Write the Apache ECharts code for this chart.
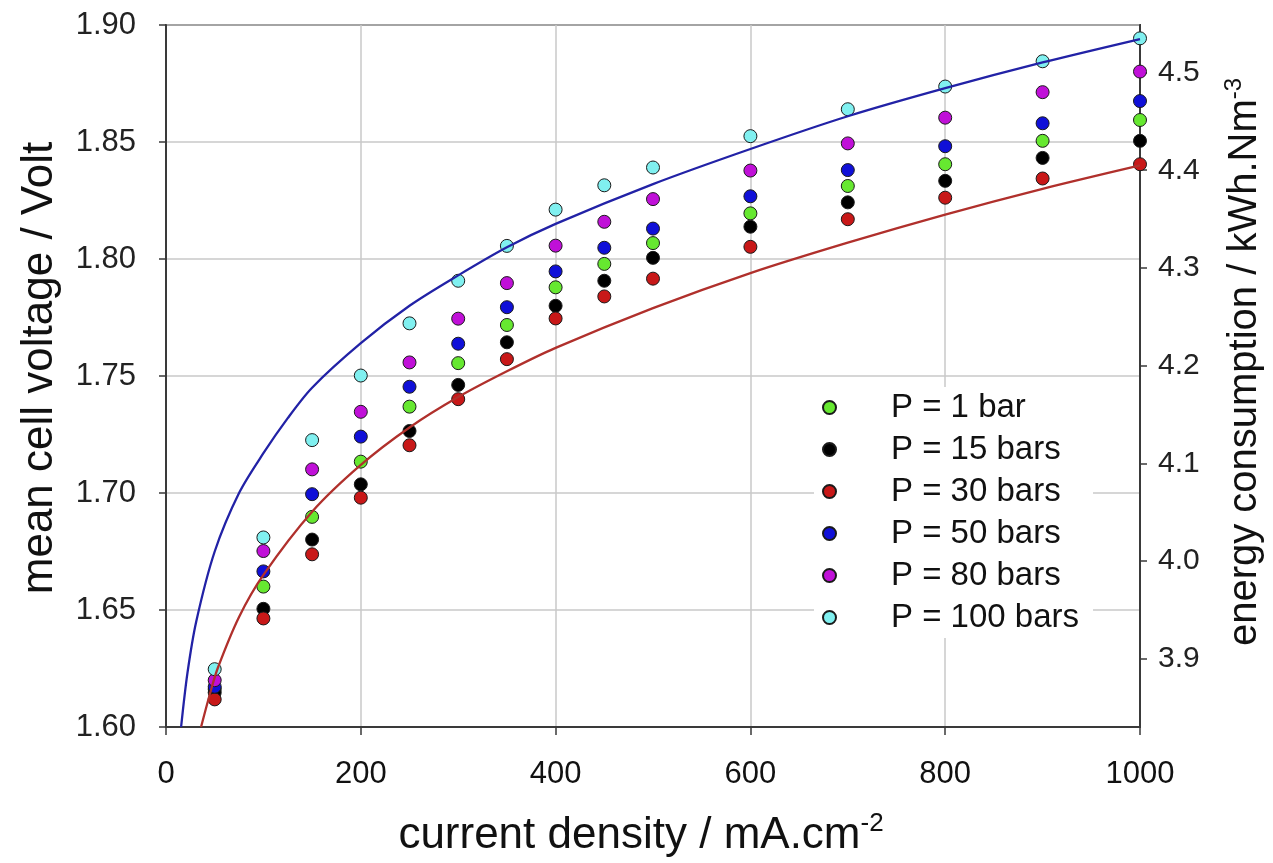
<!DOCTYPE html>
<html>
<head>
<meta charset="utf-8">
<title>mean cell voltage vs current density</title>
<script src="https://cdn.jsdelivr.net/npm/echarts@6/dist/echarts.min.js"></script>
<style>
  html, body { margin: 0; padding: 0; background: #fff; }
  #chart { width: 1273px; height: 863px; }
</style>
</head>
<body>
<div id="chart"></div>
<script>
// current density / mA.cm-2
const currentDensity = [50, 100, 150, 200, 250, 300, 350, 400, 450, 500, 600, 700, 800, 900, 1000]

// mean cell voltage / Volt, one list per pressure
const p1Bar = [1.6162, 1.6600, 1.6898, 1.7134, 1.7369, 1.7555, 1.7718, 1.7879, 1.7979, 1.8068, 1.8195, 1.8312, 1.8405, 1.8505, 1.8594]
const p15Bars = [1.6147, 1.6505, 1.6801, 1.7037, 1.7265, 1.7462, 1.7644, 1.7800, 1.7907, 1.8005, 1.8138, 1.8242, 1.8334, 1.8432, 1.8505]
const p30Bars = [1.6118, 1.6464, 1.6738, 1.6980, 1.7204, 1.7401, 1.7572, 1.7746, 1.7840, 1.7916, 1.8052, 1.8170, 1.8262, 1.8344, 1.8405]
const p50Bars = [1.6172, 1.6665, 1.6995, 1.7241, 1.7454, 1.7638, 1.7794, 1.7947, 1.8048, 1.8130, 1.8268, 1.8380, 1.8482, 1.8580, 1.8675]
const p80Bars = [1.6200, 1.6752, 1.7101, 1.7347, 1.7558, 1.7745, 1.7897, 1.8057, 1.8159, 1.8256, 1.8378, 1.8494, 1.8604, 1.8713, 1.8801]
const p100Bars = [1.6247, 1.6810, 1.7226, 1.7502, 1.7725, 1.7907, 1.8056, 1.8211, 1.8315, 1.8391, 1.8525, 1.8640, 1.8737, 1.8845, 1.8943]

// fitted curves
const upperFitX = [15.5, 22, 31, 50, 75, 100, 125, 150, 200, 250, 300, 350, 400, 500, 600, 700, 800, 900, 1000]
const upperFitY = [1.600, 1.623, 1.645, 1.675, 1.700, 1.717, 1.732, 1.745, 1.764, 1.780, 1.793, 1.805, 1.815, 1.832, 1.847, 1.861, 1.873, 1.884, 1.894]
const lowerFitX = [36, 45, 53, 75, 100, 150, 200, 250, 300, 350, 400, 500, 600, 700, 800, 900, 1000]
const lowerFitY = [1.600, 1.614, 1.625, 1.647, 1.665, 1.692, 1.712, 1.728, 1.741, 1.752, 1.762, 1.779, 1.794, 1.807, 1.819, 1.830, 1.840]

// right axis: energy consumption / kWh.Nm-3
const energyTicks = [3.9, 4.0, 4.1, 4.2, 4.3, 4.4, 4.5]
const kwhPerVolt = 2.394

const voltMin = 1.60
const voltMax = 1.90

const pair = (xs, ys) => xs.map((x, i) => [x, ys[i]])

const FONT = '"Liberation Sans", Arial, sans-serif'

const scatter = (name, values, color) => ({
  name: name,
  type: 'scatter',
  symbol: 'circle',
  symbolSize: 13,
  data: pair(currentDensity, values),
  itemStyle: {
    color: color,
    opacity: 1,
    borderColor: '#1a1a1a',
    borderWidth: 1
  },
  z: 2
})

const fitLine = (xs, ys, color) => ({
  type: 'line',
  data: pair(xs, ys),
  showSymbol: false,
  smooth: 0.3,
  lineStyle: { color: color, width: 2.3 },
  z: 3
})

const chart = echarts.init(document.getElementById('chart'))

const option = {
  animation: false,
  backgroundColor: '#fff',
  textStyle: { fontFamily: FONT },
  grid: {
    left: 166,
    right: 132,
    top: 25,
    bottom: 136,
    show: true,
    borderColor: '#3a3a3a',
    borderWidth: 2
  },
  legend: {
    orient: 'vertical',
    left: 814,
    top: 387,
    itemGap: 9,
    itemWidth: 13,
    itemHeight: 13,
    icon: 'circle',
    backgroundColor: '#fff',
    padding: [4, 14, 4, 8],
    textStyle: {
      fontSize: 33,
      color: '#111',
      fontFamily: FONT,
      padding: [0, 0, 0, 50]
    },
    data: ['P = 1 bar', 'P = 15 bars', 'P = 30 bars', 'P = 50 bars', 'P = 80 bars', 'P = 100 bars']
  },
  xAxis: {
    type: 'value',
    min: 0,
    max: 1000,
    interval: 200,
    name: '{a|current density / mA.cm}{s|-2}',
    nameLocation: 'middle',
    nameGap: 84,
    nameTextStyle: {
      padding: [0, 24, 0, 0],
      rich: {
        a: { fontSize: 44, color: '#111', fontFamily: FONT, lineHeight: 50 },
        s: { fontSize: 26, color: '#111', fontFamily: FONT, verticalAlign: 'top', lineHeight: 50 }
      }
    },
    axisLine: { lineStyle: { color: '#3a3a3a', width: 2 } },
    axisTick: { inside: false, length: 8, lineStyle: { color: '#3a3a3a', width: 1.5 } },
    axisLabel: {
      fontSize: 31,
      color: '#111',
      margin: 32,
      formatter: (v) => String(v)
    },
    splitLine: { show: true, lineStyle: { color: '#c8c8c8', width: 1.5 } }
  },
  yAxis: [
    {
      type: 'value',
      position: 'left',
      min: voltMin,
      max: voltMax,
      interval: 0.05,
      name: 'mean cell voltage / Volt',
      nameLocation: 'middle',
      nameGap: 104,
      nameTextStyle: { fontSize: 44, color: '#111', padding: [0, 0, 0, 16] },
      axisLine: { show: true, lineStyle: { color: '#3a3a3a', width: 2 } },
      axisTick: { show: true, length: 7, lineStyle: { color: '#3a3a3a', width: 1.5 } },
      axisLabel: {
        fontSize: 31,
        color: '#222',
        margin: 30,
        formatter: (v) => v.toFixed(2)
      },
      splitLine: { show: true, lineStyle: { color: '#c8c8c8', width: 1.5 } }
    },
    {
      type: 'value',
      position: 'right',
      min: voltMin * kwhPerVolt,
      max: voltMax * kwhPerVolt,
      name: '{a|energy consumption / kWh.Nm}{s|-3}',
      nameLocation: 'middle',
      nameRotate: 90,
      nameGap: 82,
      nameTextStyle: {
        padding: [0, 0, 0, 28],
        rich: {
          a: { fontSize: 40, color: '#111', fontFamily: FONT, lineHeight: 46 },
          s: { fontSize: 24, color: '#111', fontFamily: FONT, verticalAlign: 'top', lineHeight: 46 }
        }
      },
      axisLine: { show: true, lineStyle: { color: '#3a3a3a', width: 2 } },
      axisTick: {
        show: true,
        length: 7,
        customValues: energyTicks,
        lineStyle: { color: '#3a3a3a', width: 1.5 }
      },
      axisLabel: {
        fontSize: 30,
        color: '#222',
        margin: 18,
        customValues: energyTicks,
        formatter: (v) => v.toFixed(1)
      },
      splitLine: { show: false }
    }
  ],
  series: [
    scatter('P = 1 bar', p1Bar, '#66e830'),
    scatter('P = 15 bars', p15Bars, '#000000'),
    scatter('P = 30 bars', p30Bars, '#c81818'),
    scatter('P = 50 bars', p50Bars, '#1010d8'),
    scatter('P = 80 bars', p80Bars, '#c010d8'),
    scatter('P = 100 bars', p100Bars, '#80f0f0'),
    fitLine(upperFitX, upperFitY, '#2222a6'),
    fitLine(lowerFitX, lowerFitY, '#b0302c')
  ]
}

chart.setOption(option)
</script>
</body>
</html>
